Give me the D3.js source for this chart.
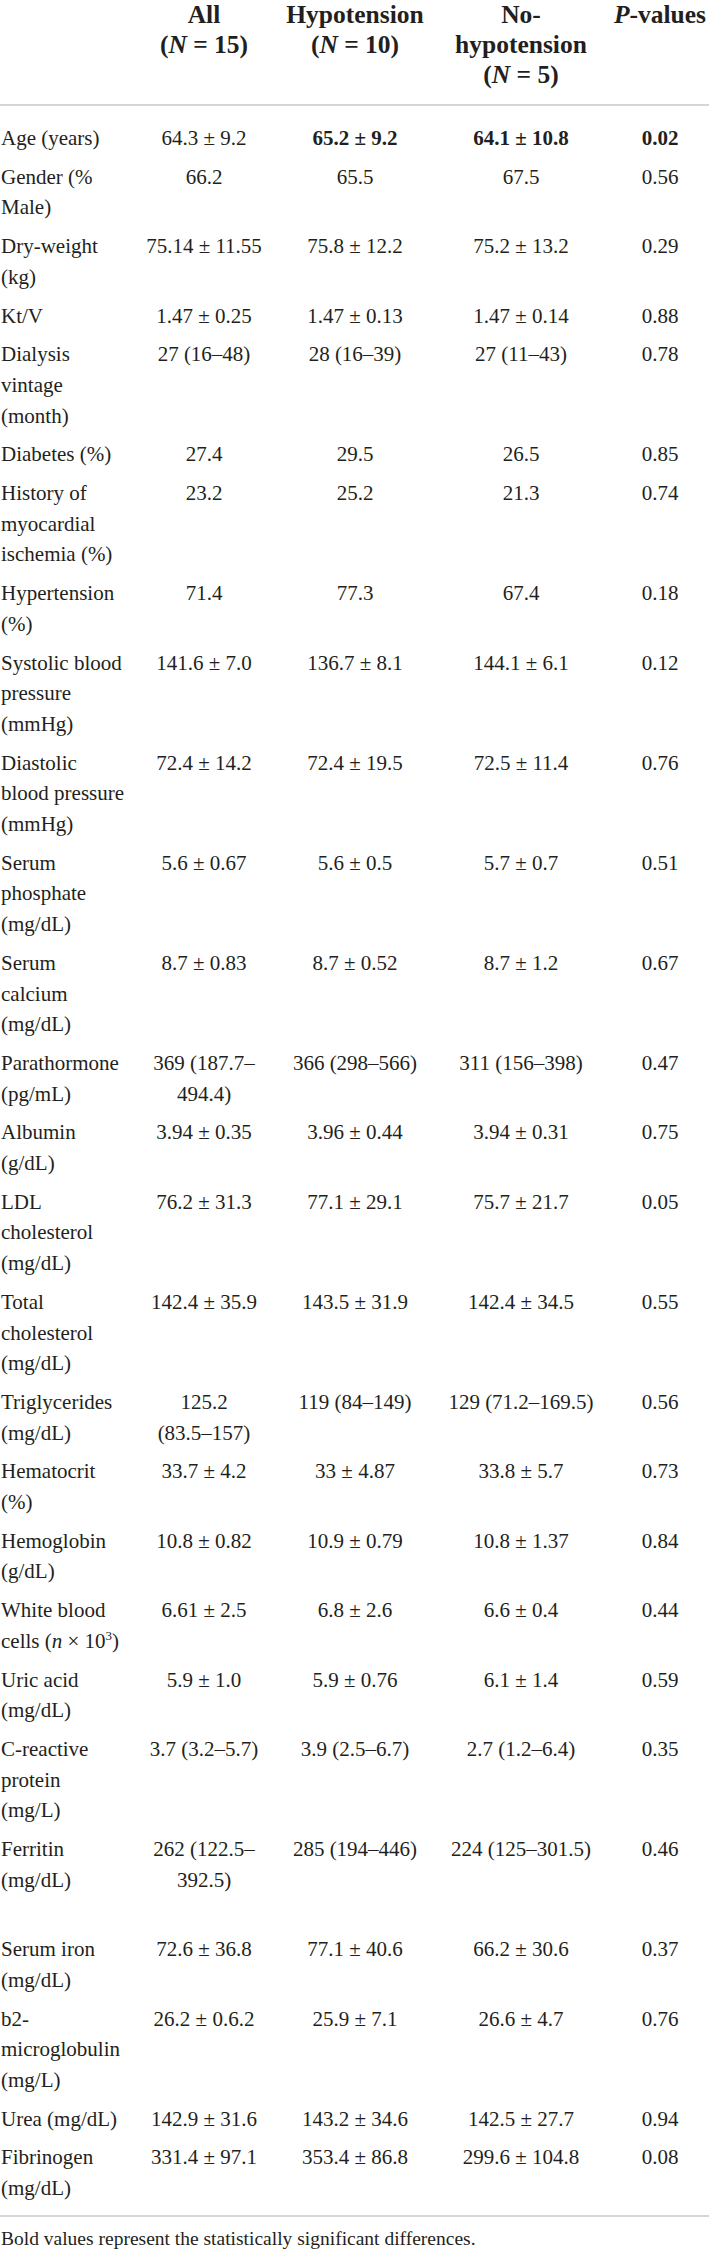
<!DOCTYPE html>
<html>
<head>
<meta charset="utf-8">
<script src="https://cdn.jsdelivr.net/npm/d3@7"></script>
<style>
  html, body { margin: 0; padding: 0; background: #fff; }
  svg { display: block; }
  text { font-family: "Liberation Serif", "Times New Roman", serif; fill: #231f20; }
</style>
</head>
<body>
<div id="table"></div>
<script>
const columnKeys = ["all", "hypo", "nohypo", "p"];
const headerLines = [
    ["All", "(*N* = 15)"],
    ["Hypotension", "(*N* = 10)"],
    ["No-", "hypotension", "(*N* = 5)"],
    ["*P*-values"]
];

const rowLabels = [
    ["Age (years)"], ["Gender (%", "Male)"], ["Dry-weight", "(kg)"], ["Kt/V"],
    ["Dialysis", "vintage", "(month)"], ["Diabetes (%)"], ["History of", "myocardial", "ischemia (%)"],
    ["Hypertension", "(%)"], ["Systolic blood", "pressure", "(mmHg)"], ["Diastolic", "blood pressure", "(mmHg)"],
    ["Serum", "phosphate", "(mg/dL)"], ["Serum", "calcium", "(mg/dL)"], ["Parathormone", "(pg/mL)"],
    ["Albumin", "(g/dL)"], ["LDL", "cholesterol", "(mg/dL)"], ["Total", "cholesterol", "(mg/dL)"],
    ["Triglycerides", "(mg/dL)"], ["Hematocrit", "(%)"], ["Hemoglobin", "(g/dL)"],
    ["White blood", "cells (*n* × 10^3^)"], ["Uric acid", "(mg/dL)"], ["C-reactive", "protein", "(mg/L)"],
    ["Ferritin", "(mg/dL)", ""], ["Serum iron", "(mg/dL)"], ["b2-", "microglobulin", "(mg/L)"],
    ["Urea (mg/dL)"], ["Fibrinogen", "(mg/dL)"]
];

const allValues = [
    "64.3 ± 9.2", "66.2", "75.14 ± 11.55", "1.47 ± 0.25", "27 (16–48)", "27.4", "23.2", "71.4",
    "141.6 ± 7.0", "72.4 ± 14.2", "5.6 ± 0.67", "8.7 ± 0.83", ["369 (187.7–", "494.4)"], "3.94 ± 0.35",
    "76.2 ± 31.3", "142.4 ± 35.9", ["125.2", "(83.5–157)"], "33.7 ± 4.2", "10.8 ± 0.82", "6.61 ± 2.5",
    "5.9 ± 1.0", "3.7 (3.2–5.7)", ["262 (122.5–", "392.5)"], "72.6 ± 36.8", "26.2 ± 0.6.2",
    "142.9 ± 31.6", "331.4 ± 97.1"
];
const hypoValues = [
    "65.2 ± 9.2", "65.5", "75.8 ± 12.2", "1.47 ± 0.13", "28 (16–39)", "29.5", "25.2", "77.3",
    "136.7 ± 8.1", "72.4 ± 19.5", "5.6 ± 0.5", "8.7 ± 0.52", "366 (298–566)", "3.96 ± 0.44",
    "77.1 ± 29.1", "143.5 ± 31.9", "119 (84–149)", "33 ± 4.87", "10.9 ± 0.79", "6.8 ± 2.6",
    "5.9 ± 0.76", "3.9 (2.5–6.7)", "285 (194–446)", "77.1 ± 40.6", "25.9 ± 7.1",
    "143.2 ± 34.6", "353.4 ± 86.8"
];
const noHypoValues = [
    "64.1 ± 10.8", "67.5", "75.2 ± 13.2", "1.47 ± 0.14", "27 (11–43)", "26.5", "21.3", "67.4",
    "144.1 ± 6.1", "72.5 ± 11.4", "5.7 ± 0.7", "8.7 ± 1.2", "311 (156–398)", "3.94 ± 0.31",
    "75.7 ± 21.7", "142.4 ± 34.5", "129 (71.2–169.5)", "33.8 ± 5.7", "10.8 ± 1.37", "6.6 ± 0.4",
    "6.1 ± 1.4", "2.7 (1.2–6.4)", "224 (125–301.5)", "66.2 ± 30.6", "26.6 ± 4.7",
    "142.5 ± 27.7", "299.6 ± 104.8"
];
const pValues = [
    "0.02", "0.56", "0.29", "0.88", "0.78", "0.85", "0.74", "0.18", "0.12", "0.76", "0.51", "0.67",
    "0.47", "0.75", "0.05", "0.55", "0.56", "0.73", "0.84", "0.44", "0.59", "0.35", "0.46", "0.37",
    "0.76", "0.94", "0.08"
];
// row index -> columns shown in bold (significant)
const boldCells = [{ row: 0, cols: ["hypo", "nohypo", "p"] }];
const footnote = "Bold values represent the statistically significant differences.";

const width = 709, height = 2252;
const bodyFont = 21, headFont = 25.5, noteFont = 19.5;
const lineH = 30.7, rowGap = 8, headLineH = 30;
const headBaseline = 23, headRuleY = 105, firstBaseline = 145;

const svg = d3.select("#table").append("svg").attr("width", width).attr("height", height);

const colX = d3.scaleOrdinal().domain(columnKeys).range([204, 355, 521, 660]);

// line-unit scale: y position of body line n
const y = d3.scaleLinear().domain([0, 1]).range([firstBaseline, firstBaseline + lineH]);

const asLines = v => Array.isArray(v) ? v : [v];
const valueSets = { all: allValues, hypo: hypoValues, nohypo: noHypoValues, p: pValues };

// build rows with their starting line offset
let offset = 0;
const rows = rowLabels.map((label, i) => {
    const cells = columnKeys.map(k => ({ key: k, lines: asLines(valueSets[k][i]) }));
    const nLines = d3.max([label.length, ...cells.map(c => c.lines.length)]);
    const bold = (boldCells.find(b => b.row === i) || { cols: [] }).cols;
    const r = { i, label, cells, start: offset, bold };
    offset += nLines + rowGap / lineH;
    return r;
});

function rich(textSel, str, size) {
    const parts = str.split(/(\*[^*]+\*|\^[^^]+\^)/).filter(s => s !== "");
    let raised = false;
    parts.forEach(p => {
        const t = textSel.append("tspan");
        if (raised) { t.attr("dy", size * 0.38); raised = false; }
        if (p.startsWith("*")) t.attr("font-style", "italic").text(p.slice(1, -1));
        else if (p.startsWith("^")) {
            t.attr("font-size", size * 0.62).attr("dy", -size * 0.38).text(p.slice(1, -1));
            raised = true;
        } else t.text(p);
    });
}

// header
const head = svg.append("g").attr("class", "header");
headerLines.forEach((lines, ci) => {
    lines.forEach((ln, li) => {
        const t = head.append("text")
            .attr("x", colX(columnKeys[ci]))
            .attr("y", headBaseline + li * headLineH)
            .attr("text-anchor", "middle")
            .attr("font-weight", "bold")
            .attr("font-size", headFont);
        rich(t, ln, headFont);
    });
});

svg.append("line").attr("x1", 0).attr("x2", width)
    .attr("y1", headRuleY).attr("y2", headRuleY)
    .attr("stroke", "#c8c8c8").attr("stroke-width", 1.5);

// body
const body = svg.append("g").attr("class", "body");
const rowG = body.selectAll("g.row").data(rows).join("g").attr("class", "row");

rowG.each(function (r) {
    const g = d3.select(this);
    r.label.forEach((ln, li) => {
        const t = g.append("text").attr("x", 1).attr("y", y(r.start + li)).attr("font-size", bodyFont);
        rich(t, ln, bodyFont);
    });
    r.cells.forEach(c => {
        c.lines.forEach((ln, li) => {
            g.append("text")
                .attr("x", colX(c.key))
                .attr("y", y(r.start + li))
                .attr("text-anchor", "middle")
                .attr("font-size", bodyFont)
                .attr("font-weight", r.bold.includes(c.key) ? "bold" : null)
                .text(ln);
        });
    });
});

const lastLine = offset - rowGap / lineH - 1;
const footRuleY = y(lastLine) + 21;
svg.append("line").attr("x1", 0).attr("x2", width)
    .attr("y1", footRuleY).attr("y2", footRuleY)
    .attr("stroke", "#c8c8c8").attr("stroke-width", 1.5);

svg.append("text").attr("x", 1).attr("y", footRuleY + 29)
    .attr("font-size", noteFont).text(footnote);
</script>
</body>
</html>
